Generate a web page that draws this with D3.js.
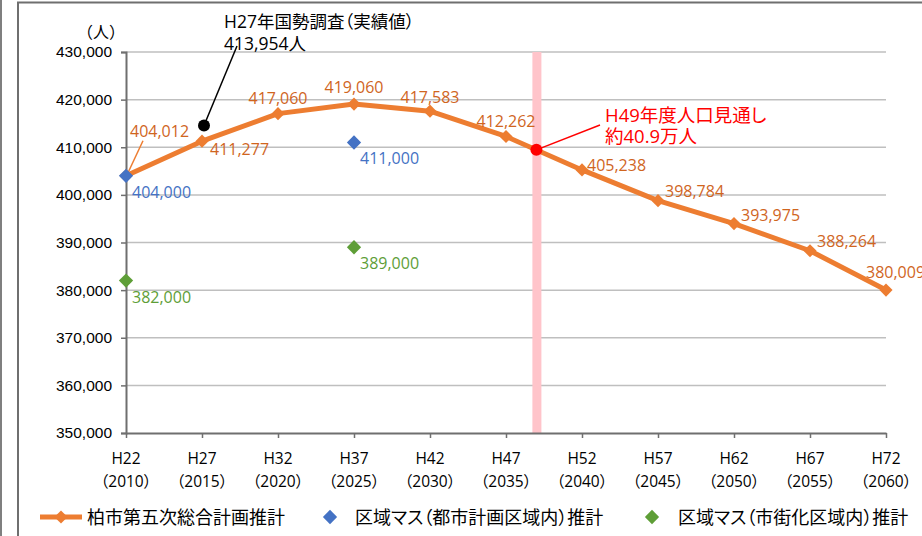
<!doctype html>
<html>
<head>
<meta charset="utf-8">
<script src="https://cdn.jsdelivr.net/npm/d3@7"></script>
<style>
  body { margin: 0; background: #fff; }
  svg { display: block; font-family: "Open Sans", "Noto Sans CJK JP", sans-serif; font-feature-settings: "palt"; }
</style>
</head>
<body>
<svg width="922" height="536"></svg>
<script>
// --- data ---
var years = [2010, 2015, 2020, 2025, 2030, 2035, 2040, 2045, 2050, 2055, 2060];
var heisei = ["H22", "H27", "H32", "H37", "H42", "H47", "H52", "H57", "H62", "H67", "H72"];
var planValues = [404012, 411277, 417060, 419060, 417583, 412262, 405238, 398784, 393975, 388264, 380009];
var toshiYears = [2010, 2025];
var toshiValues = [404000, 411000];
var shigaiYears = [2010, 2025];
var shigaiValues = [382000, 389000];
var censusYear = 2015, censusValue = 413954;
var outlookYear = 2037, outlookValue = 409452;
var yTicks = [350000, 360000, 370000, 380000, 390000, 400000, 410000, 420000, 430000];
var seriesNames = ["柏市第五次総合計画推計", "区域マス（都市計画区域内）推計", "区域マス（市街化区域内）推計"];

// label placement for the orange series (dx, dy from the point, anchor)
var planLabelPos = [
  [4, -39, "start"], [8, 14, "start"], [0, -10, "middle"], [0, -11, "middle"], [0, -8, "middle"],
  [0, -9, "middle"], [5, 1, "start"], [7, -4, "start"], [7, -3, "start"], [7, -4, "start"], [-20, -12, "start"]
];

var orange = "#ED7D31", orangeText = "#D0651E", blue = "#4472C4", green = "#5E9E37";

var svg = d3.select("svg");
var x = d3.scaleLinear().domain([2010, 2060]).range([126, 886]);
var y = d3.scaleLinear().domain([350000, 430000]).range([433, 52]);
var fmt = d3.format(",");

// frame
svg.append("line").attr("x1", 1).attr("x2", 1).attr("y1", 0).attr("y2", 536)
  .attr("stroke", "#7f7f7f").attr("stroke-width", 2);
svg.append("path").attr("d", "M18,536V2.5H922")
  .attr("fill", "none").attr("stroke", "#6f6f6f").attr("stroke-width", 2);

// gridlines
svg.append("g").selectAll("line").data(yTicks.slice(1)).join("line")
  .attr("x1", x(2010)).attr("x2", x(2060))
  .attr("y1", d => y(d)).attr("y2", d => y(d))
  .attr("stroke", "#bfbfbf").attr("stroke-width", 1.5);

// H49 band
svg.append("rect")
  .attr("x", x(outlookYear) - 4).attr("width", 9)
  .attr("y", y(430000)).attr("height", y(350000) - y(430000))
  .attr("fill", "#ffc4ca");

// axes
var yAxis = d3.axisLeft(y).tickValues(yTicks).tickFormat(fmt).tickSize(5).tickPadding(9);
var gy = svg.append("g").attr("transform", "translate(" + x(2010) + ",0)").call(yAxis);
gy.select(".domain").attr("stroke", "#6f6f6f").attr("stroke-width", 2);
gy.selectAll(".tick line").attr("stroke", "#6f6f6f").attr("stroke-width", 1.5);
gy.selectAll(".tick text").attr("font-size", 15.5).attr("fill", "#000")
  .attr("font-family", null);

var xAxis = d3.axisBottom(x).tickValues(years).tickFormat("").tickSize(5).tickSizeOuter(0);
var gx = svg.append("g").attr("transform", "translate(0," + y(350000) + ")").call(xAxis);
gx.select(".domain").attr("stroke", "#6f6f6f").attr("stroke-width", 2);
gx.selectAll(".tick line").attr("stroke", "#6f6f6f").attr("stroke-width", 1.5);

var xl = svg.append("g").selectAll("g").data(years).join("g")
  .attr("transform", d => "translate(" + x(d) + ",0)");
xl.append("text").attr("y", 464).attr("text-anchor", "middle").attr("font-size", 15.5)
  .text((d, i) => heisei[i]);
xl.append("text").attr("y", 487).attr("text-anchor", "middle").attr("font-size", 15.5)
  .text(d => "（" + d + "）");

svg.append("text").attr("x", 101).attr("y", 38).attr("text-anchor", "middle")
  .attr("font-size", 16).style("font-feature-settings", "normal").text("（人）");

// orange series
var planData = years.map((d, i) => ({ year: d, value: planValues[i] }));
svg.append("path").datum(planData)
  .attr("d", d3.line().x(d => x(d.year)).y(d => y(d.value)))
  .attr("fill", "none").attr("stroke", orange).attr("stroke-width", 5).attr("stroke-linejoin", "round");

var diamond = d3.symbol().type(d3.symbolDiamond2).size(110);
svg.append("g").selectAll("path").data(planData).join("path")
  .attr("d", diamond)
  .attr("transform", d => "translate(" + x(d.year) + "," + y(d.value) + ")")
  .attr("fill", orange);

// leader for first label
svg.append("line")
  .attr("x1", x(2010) + 2).attr("y1", y(planValues[0]) - 3)
  .attr("x2", x(2010) + 17).attr("y2", y(planValues[0]) - 35)
  .attr("stroke", orange).attr("stroke-width", 1.5);

svg.append("g").selectAll("text").data(planData).join("text")
  .attr("x", (d, i) => x(d.year) + planLabelPos[i][0])
  .attr("y", (d, i) => y(d.value) + planLabelPos[i][1])
  .attr("text-anchor", (d, i) => planLabelPos[i][2])
  .attr("font-size", 16).attr("fill", orangeText)
  .text(d => fmt(d.value));

// scatter series
var scatterDiamond = d3.symbol().type(d3.symbolDiamond2).size(130);
function scatter(ys, vs, color) {
  var data = ys.map((d, i) => ({ year: d, value: vs[i] }));
  svg.append("g").selectAll("path").data(data).join("path")
    .attr("d", scatterDiamond)
    .attr("transform", d => "translate(" + x(d.year) + "," + y(d.value) + ")")
    .attr("fill", color);
  svg.append("g").selectAll("text").data(data).join("text")
    .attr("x", d => x(d.year) + 6).attr("y", d => y(d.value) + 22)
    .attr("font-size", 16).attr("fill", color)
    .text(d => fmt(d.value));
}
scatter(toshiYears, toshiValues, blue);
scatter(shigaiYears, shigaiValues, green);

// census annotation
var cx = x(censusYear) + 2, cy = y(censusValue) - 3;
svg.append("line").attr("x1", cx).attr("y1", cy).attr("x2", 237).attr("y2", 46)
  .attr("stroke", "#000").attr("stroke-width", 1.5);
svg.append("circle").attr("cx", cx).attr("cy", cy).attr("r", 6).attr("fill", "#000");
svg.append("text").attr("x", 224).attr("y", 28).attr("font-size", 17.5).text("H27年国勢調査（実績値）");
svg.append("text").attr("x", 224).attr("y", 50).attr("font-size", 17.5).text(fmt(censusValue) + "人");

// outlook annotation
var ox = x(outlookYear), oy = y(outlookValue);
svg.append("line").attr("x1", ox).attr("y1", oy).attr("x2", 600).attr("y2", 125)
  .attr("stroke", "#ff0000").attr("stroke-width", 1.5);
svg.append("circle").attr("cx", ox).attr("cy", oy).attr("r", 6).attr("fill", "#ff0000");
svg.append("text").attr("x", 605).attr("y", 122).attr("font-size", 18.5).attr("fill", "#ff0000")
  .text("H49年度人口見通し");
svg.append("text").attr("x", 605).attr("y", 143).attr("font-size", 18.5).attr("fill", "#ff0000")
  .text("約" + (Math.round(outlookValue / 1000) / 10) + "万人");

// legend
var lg = svg.append("g").attr("transform", "translate(0,517)");
lg.append("line").attr("x1", 40).attr("x2", 82).attr("stroke", orange).attr("stroke-width", 5);
lg.append("path").attr("d", diamond).attr("transform", "translate(61,0)").attr("fill", orange);
lg.append("text").attr("x", 87).attr("y", 6.5).attr("font-size", 18).text(seriesNames[0]);
lg.append("path").attr("d", scatterDiamond).attr("transform", "translate(330,0)").attr("fill", blue);
lg.append("text").attr("x", 355).attr("y", 6.5).attr("font-size", 18).text(seriesNames[1]);
lg.append("path").attr("d", scatterDiamond).attr("transform", "translate(652,0)").attr("fill", green);
lg.append("text").attr("x", 678).attr("y", 6.5).attr("font-size", 18).text(seriesNames[2]);
</script>
</body>
</html>
